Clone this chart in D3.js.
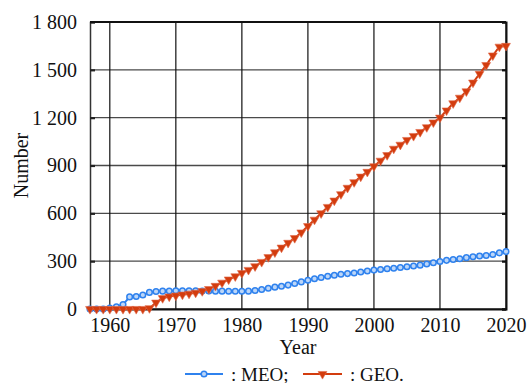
<!DOCTYPE html>
<html>
<head>
<meta charset="utf-8">
<script src="https://cdn.jsdelivr.net/npm/d3@7"></script>
<style>
  html, body { margin: 0; padding: 0; background: #fff; }
  svg { display: block; }
</style>
</head>
<body>
<svg id="chart" width="528" height="383"></svg>
<script>
// Yearly satellite counts, 1957–2020
const years = d3.range(1957, 2021);
const meoCounts = [
  0, 0, 0, 6, 14, 28, 76, 78, 88, 104,
  110, 112, 113, 114, 114, 114, 114, 113, 113, 112,
  112, 111, 111, 111, 112, 116, 122, 130, 137, 143,
  150, 160, 170, 180, 190, 198, 205, 212, 218, 222,
  226, 232, 238, 244, 248, 252, 256, 260, 265, 270,
  275, 282, 290, 298, 305, 310, 315, 322, 328, 332,
  336, 342, 352, 360
];
const geoCounts = [
  0, 0, 0, 0, 0, 0, 0, 0, 0, 5,
  40, 68, 78, 84, 90, 96, 102, 112, 125, 145,
  165, 185, 205, 225, 245, 268, 295, 325, 355, 385,
  415, 445, 480, 520, 560, 600, 640, 680, 720, 760,
  795, 830, 860, 895, 930, 965, 1005, 1030, 1060, 1085,
  1110, 1140, 1170, 1200, 1245, 1290, 1325, 1365, 1420, 1475,
  1530, 1590, 1645, 1650
];
const yTicks = [0, 300, 600, 900, 1200, 1500, 1800];
const xTicks = [1960, 1970, 1980, 1990, 2000, 2010, 2020];
const seriesNames = [": MEO;", ": GEO."];

const meoColor = "#2f82ee";
const geoColor = "#d33c0e";
const FONT = "Liberation Serif";

const svg = d3.select("#chart");
const margin = { left: 90, right: 22, top: 22, bottom: 74 };
const W = 528, H = 383;

const x = d3.scaleLinear().domain([1957, 2020]).range([margin.left, W - margin.right]);
const y = d3.scaleLinear().domain([0, 1800]).range([H - margin.bottom, margin.top]);

// horizontal grid
svg.append("g")
  .selectAll("line")
  .data(yTicks)
  .join("line")
  .attr("x1", x.range()[0]).attr("x2", x.range()[1])
  .attr("y1", d => y(d)).attr("y2", d => y(d))
  .attr("stroke", "#4a4a4a").attr("stroke-width", 1.4);

// vertical grid
svg.append("g")
  .selectAll("line")
  .data(xTicks)
  .join("line")
  .attr("x1", d => x(d)).attr("x2", d => x(d))
  .attr("y1", y.range()[1]).attr("y2", y.range()[0])
  .attr("stroke", "#111").attr("stroke-width", 1.2);

// left axis with inward ticks
const yAxis = svg.append("g")
  .attr("transform", `translate(${x.range()[0]},0)`)
  .call(d3.axisLeft(y).tickValues(yTicks).tickSize(-5).tickPadding(13)
    .tickFormat(d => d3.format(",")(d).replace(/,/g, " ")));
yAxis.attr("font-family", FONT);
yAxis.select(".domain").attr("stroke", "#333").attr("stroke-width", 1.5);
yAxis.selectAll(".tick line").attr("stroke", "#222").attr("stroke-width", 2.2);
yAxis.selectAll("text").attr("font-size", 20).attr("fill", "#111").attr("font-family", FONT);

// right axis ticks
const yAxisR = svg.append("g")
  .attr("transform", `translate(${x.range()[1]},0)`)
  .call(d3.axisRight(y).tickValues(yTicks).tickSize(-4).tickFormat(""));
yAxisR.select(".domain").attr("stroke", "#111").attr("stroke-width", 2);
yAxisR.selectAll(".tick line").attr("stroke", "#111").attr("stroke-width", 2.2);

// bottom axis
const xAxis = svg.append("g")
  .attr("transform", `translate(0,${y.range()[0]})`)
  .call(d3.axisBottom(x).tickValues(xTicks).tickSize(0).tickPadding(9).tickFormat(d3.format("d")));
xAxis.attr("font-family", FONT);
xAxis.select(".domain").attr("stroke", "#111").attr("stroke-width", 2);
xAxis.selectAll("text").attr("font-size", 20).attr("fill", "#111").attr("font-family", FONT);

// top border
svg.append("line")
  .attr("x1", x.range()[0]).attr("x2", x.range()[1])
  .attr("y1", y.range()[1]).attr("y2", y.range()[1])
  .attr("stroke", "#111").attr("stroke-width", 1.8);

// axis titles
svg.append("text")
  .attr("x", (x.range()[0] + x.range()[1]) / 2).attr("y", 354)
  .attr("text-anchor", "middle").attr("font-size", 20).attr("fill", "#111")
  .attr("font-family", FONT)
  .text("Year");
svg.append("text")
  .attr("transform", `translate(28,${(y.range()[0] + y.range()[1]) / 2}) rotate(-90)`)
  .attr("text-anchor", "middle").attr("font-size", 20).attr("fill", "#111")
  .attr("font-family", FONT)
  .text("Number");

const tri = d3.symbol().type(d3.symbolTriangle).size(34);

function drawSeries(values, color, marker) {
  const pts = years.map((yr, i) => [yr, values[i]]);
  svg.append("path")
    .datum(pts)
    .attr("fill", "none")
    .attr("stroke", color)
    .attr("stroke-width", 2)
    .attr("d", d3.line().x(d => x(d[0])).y(d => y(d[1])));
  const g = svg.append("g");
  if (marker === "circle") {
    g.selectAll("circle").data(pts).join("circle")
      .attr("cx", d => x(d[0])).attr("cy", d => y(d[1])).attr("r", 2.8)
      .attr("fill", "#bcd6f8").attr("stroke", color).attr("stroke-width", 1.5);
  } else {
    g.selectAll("path").data(pts).join("path")
      .attr("d", tri)
      .attr("transform", d => `translate(${x(d[0])},${y(d[1])}) rotate(180)`)
      .attr("fill", color).attr("stroke", "#e0694a").attr("stroke-width", 0.6);
  }
}

drawSeries(meoCounts, meoColor, "circle");
drawSeries(geoCounts, geoColor, "triangle");

// legend
const legY = 374;
const legend = [
  { x0: 185, x1: 223, color: meoColor, marker: "circle", label: seriesNames[0], tx: 231 },
  { x0: 303, x1: 342, color: geoColor, marker: "triangle", label: seriesNames[1], tx: 350 }
];
legend.forEach(l => {
  svg.append("line").attr("x1", l.x0).attr("x2", l.x1).attr("y1", legY).attr("y2", legY)
    .attr("stroke", l.color).attr("stroke-width", 2);
  const cx = (l.x0 + l.x1) / 2;
  if (l.marker === "circle") {
    svg.append("circle").attr("cx", cx).attr("cy", legY).attr("r", 2.8)
      .attr("fill", "#bcd6f8").attr("stroke", l.color).attr("stroke-width", 1.5);
  } else {
    svg.append("path").attr("d", tri)
      .attr("transform", `translate(${cx},${legY}) rotate(180)`)
      .attr("fill", l.color).attr("stroke", "#e0694a").attr("stroke-width", 0.6);
  }
  svg.append("text").attr("x", l.tx).attr("y", legY + 6.5)
    .attr("font-size", 19).attr("fill", "#111").attr("font-family", FONT).text(l.label);
});
</script>
</body>
</html>
